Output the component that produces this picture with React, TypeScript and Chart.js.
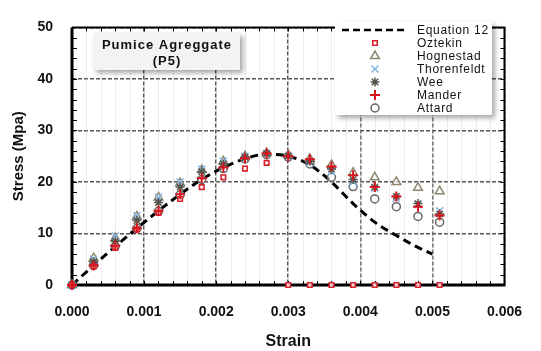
import React, { useEffect, useRef } from "react";
import { Chart, registerables } from "chart.js";
import { drawPoint } from "chart.js/helpers";

Chart.register(...registerables);

// Strain steps shared by the model series
const strain = [0, 0.0003, 0.0006, 0.0009, 0.0012, 0.0015, 0.0018, 0.0021, 0.0024, 0.0027, 0.003, 0.0033, 0.0036, 0.0039, 0.0042, 0.0045, 0.0048, 0.0051];

const oztekin = [0, 3.6, 7.2, 10.8, 14.0, 16.7, 19.0, 20.9, 22.6, 23.7, 0, 0, 0, 0, 0, 0, 0, 0];
const hognestad = [0, 5.2, 9.1, 13.3, 17.0, 19.8, 22.3, 24.0, 25.0, 25.6, 25.3, 24.5, 23.3, 21.8, 20.9, 20.0, 18.9, 18.2];
const thorenfeldt = [0, 5.0, 9.5, 13.5, 17.0, 20.0, 22.5, 24.0, 25.0, 25.5, 25.0, 23.8, 22.0, 20.0, 18.8, 16.8, 15.6, 14.4];
const wee = [0, 4.5, 8.5, 12.5, 16.0, 19.0, 22.0, 23.5, 24.8, 25.5, 25.0, 24.0, 22.5, 20.5, 19.0, 17.2, 15.8, 13.8];
const mander = [0, 3.8, 7.6, 11.0, 14.4, 17.6, 20.7, 22.8, 24.6, 25.5, 25.0, 24.4, 23.0, 21.3, 19.0, 17.2, 15.2, 13.5];
const attard = [0, 3.8, 7.5, 11.0, 14.3, 17.5, 20.5, 22.6, 24.5, 25.3, 24.8, 23.5, 20.9, 19.1, 16.7, 15.2, 13.3, 12.2];

// Equation 12 curve
const eqStrain = [0, 0.0003, 0.0006, 0.0009, 0.0012, 0.0015, 0.0018, 0.0021, 0.0024, 0.0027, 0.003, 0.0033, 0.0036, 0.0039, 0.0042, 0.0045, 0.0048, 0.005];
const eqStress = [0, 3.8, 7.5, 11.0, 14.4, 17.6, 20.5, 22.8, 24.5, 25.4, 25.0, 23.3, 20.0, 15.8, 12.2, 9.6, 7.3, 6.0];

const xTicks = ["0.000", "0.001", "0.002", "0.003", "0.004", "0.005", "0.006"];
const yTicks = [0, 10, 20, 30, 40, 50];

const titleLines = ["Pumice Agreggate", "(P5)"];

const pts = (ys: number[], xs: number[] = strain) => xs.map((x, i) => ({ x, y: ys[i] }));

const TICK_FONT = { family: "'Liberation Sans', Arial, sans-serif", size: 14, weight: "bold" as const };

const framePlugin = {
  id: "frame",
  beforeDatasetsDraw(chart: any) {
    const { ctx, chartArea: a, scales } = chart;
    const xs = scales.x;
    const ys = scales.y;
    ctx.save();
    // faint minor verticals
    ctx.strokeStyle = "rgba(200,200,200,0.35)";
    ctx.lineWidth = 1;
    for (let v = 0.0002; v < 0.006; v += 0.0002) {
      const px = Math.round(xs.getPixelForValue(v)) + 0.5;
      ctx.beginPath();
      ctx.moveTo(px, a.top);
      ctx.lineTo(px, a.bottom);
      ctx.stroke();
    }
    ctx.strokeStyle = "#000";
    // frame
    ctx.lineWidth = 2;
    ctx.beginPath();
    ctx.moveTo(a.left, a.top);
    ctx.lineTo(a.right, a.top);
    ctx.lineTo(a.right, a.bottom);
    ctx.stroke();
    ctx.lineWidth = 3;
    ctx.beginPath();
    ctx.moveTo(a.left, a.top);
    ctx.lineTo(a.left, a.bottom);
    ctx.lineTo(a.right + 1, a.bottom);
    ctx.stroke();
    // minor ticks
    ctx.lineWidth = 1;
    for (let v = 0; v <= 50.001; v += 2) {
      const py = Math.round(ys.getPixelForValue(v)) + 0.5;
      ctx.beginPath();
      ctx.moveTo(a.left, py);
      ctx.lineTo(a.left + 5, py);
      ctx.moveTo(a.right, py);
      ctx.lineTo(a.right - 4, py);
      ctx.stroke();
    }
    for (let v = 0; v <= 0.00601; v += 0.0002) {
      const px = Math.round(xs.getPixelForValue(v)) + 0.5;
      ctx.beginPath();
      ctx.moveTo(px, a.bottom);
      ctx.lineTo(px, a.bottom - 4);
      ctx.moveTo(px, a.top);
      ctx.lineTo(px, a.top + 4);
      ctx.stroke();
    }
    ctx.restore();
  },
  afterDraw(chart: any) {
    const { ctx } = chart;
    ctx.save();
    // title box
    ctx.shadowColor = "rgba(0,0,0,0.35)";
    ctx.shadowBlur = 5;
    ctx.shadowOffsetX = 3;
    ctx.shadowOffsetY = 3;
    ctx.fillStyle = "#f3f3f3";
    ctx.fillRect(93, 33, 147, 37);
    ctx.shadowColor = "transparent";
    ctx.fillStyle = "#111";
    ctx.font = "bold 13px 'Liberation Sans', Arial, sans-serif";
    (ctx as any).letterSpacing = "1px";
    ctx.textAlign = "center";
    ctx.textBaseline = "middle";
    ctx.fillText(titleLines[0], 167, 45);
    ctx.fillText(titleLines[1], 167, 61);

    // legend box
    ctx.shadowColor = "rgba(0,0,0,0.35)";
    ctx.shadowBlur = 5;
    ctx.shadowOffsetX = 3;
    ctx.shadowOffsetY = 3;
    ctx.fillStyle = "#fff";
    ctx.fillRect(335, 22, 157, 93);
    ctx.shadowColor = "transparent";
    (ctx as any).letterSpacing = "0.7px";
    ctx.font = "12px 'Liberation Sans', Arial, sans-serif";
    ctx.textAlign = "left";
    const items = chart.data.datasets;
    items.forEach((ds: any, i: number) => {
      const y = 30 + i * 13;
      if (ds.showLine) {
        ctx.strokeStyle = ds.borderColor;
        ctx.lineWidth = 2.5;
        ctx.setLineDash([7, 4]);
        ctx.beginPath();
        ctx.moveTo(342, y);
        ctx.lineTo(408, y);
        ctx.stroke();
        ctx.setLineDash([]);
      } else {
        ctx.strokeStyle = ds.borderColor;
        ctx.fillStyle = ds.backgroundColor;
        ctx.lineWidth = ds.borderWidth;
        drawPoint(ctx, { pointStyle: ds.pointStyle, radius: ds.pointRadius, rotation: 0, borderWidth: ds.borderWidth }, 375, y);
      }
      ctx.fillStyle = "#111";
      ctx.fillText(ds.label, 417, y + 1);
    });
    ctx.restore();
  },
};

export default function App() {
  const ref = useRef<HTMLCanvasElement>(null);
  useEffect(() => {
    if (!ref.current) return;
    const chart = new Chart(ref.current, {
      type: "scatter",
      data: {
        datasets: [
          {
            label: "Equation 12",
            data: pts(eqStress, eqStrain),
            showLine: true,
            borderColor: "#000",
            backgroundColor: "#000",
            borderWidth: 3,
            borderDash: [8, 5],
            pointRadius: 0,
            cubicInterpolationMode: "monotone",
            order: 6,
          } as any,
          {
            label: "Oztekin",
            data: pts(oztekin),
            pointStyle: "rect",
            pointRadius: 3.2,
            borderWidth: 1.6,
            borderColor: "#d9232e",
            backgroundColor: "rgba(255,255,255,0.85)",
            order: 1,
          },
          {
            label: "Hognestad",
            data: pts(hognestad),
            pointStyle: "triangle",
            pointRadius: 5,
            borderWidth: 1.5,
            borderColor: "#8c8670",
            backgroundColor: "rgba(255,255,255,0.6)",
            order: 5,
          },
          {
            label: "Thorenfeldt",
            data: pts(thorenfeldt),
            pointStyle: "crossRot",
            pointRadius: 5,
            borderWidth: 1.5,
            borderColor: "#84b4e6",
            backgroundColor: "#84b4e6",
            order: 3,
          },
          {
            label: "Wee",
            data: pts(wee),
            pointStyle: "star",
            pointRadius: 4.5,
            borderWidth: 1.5,
            borderColor: "#555248",
            backgroundColor: "#555248",
            order: 2,
          },
          {
            label: "Mander",
            data: pts(mander),
            pointStyle: "cross",
            pointRadius: 5,
            borderWidth: 2,
            borderColor: "#d8141c",
            backgroundColor: "#d8141c",
            order: 0,
          },
          {
            label: "Attard",
            data: pts(attard),
            pointStyle: "circle",
            pointRadius: 4,
            borderWidth: 1.5,
            borderColor: "#666",
            backgroundColor: "rgba(255,255,255,0.5)",
            order: 4,
          },
        ].map((d: any) => ({ ...d, clip: false })),
      },
      options: {
        animation: false,
        responsive: false,
        layout: { padding: { left: 0, top: 15, right: 25, bottom: 0 } },
        plugins: { legend: { display: false }, tooltip: { enabled: false } },
        scales: {
          x: {
            type: "linear",
            min: 0,
            max: 0.006,
            afterBuildTicks: (s: any) => {
              s.ticks = xTicks.map((t) => ({ value: parseFloat(t) }));
            },
            afterFit: (s: any) => {
              s.height = 66;
            },
            ticks: {
              padding: 19,
              color: "#111",
              font: TICK_FONT,
              callback: (_v: any, i: number) => xTicks[i],
            },
            grid: { color: "#555", lineWidth: 1.5, drawTicks: false },
            border: { display: false, dash: [4, 2] },
            title: {
              display: true,
              text: "Strain",
              color: "#111",
              font: { family: "'Liberation Sans', Arial, sans-serif", size: 16, weight: "bold" },
              padding: { top: 0, bottom: 0 },
            },
          },
          y: {
            type: "linear",
            min: 0,
            max: 50,
            afterBuildTicks: (s: any) => {
              s.ticks = yTicks.map((v) => ({ value: v }));
            },
            afterFit: (s: any) => {
              s.width = 72;
            },
            ticks: { padding: 19, color: "#111", font: TICK_FONT },
            grid: { color: "#555", lineWidth: 1.5, drawTicks: false },
            border: { display: false, dash: [4, 2] },
            title: {
              display: true,
              text: "Stress (Mpa)",
              color: "#111",
              font: { family: "'Liberation Sans', Arial, sans-serif", size: 15, weight: "bold" },
              padding: { top: 10, bottom: 0 },
            },
          },
        },
      },
      plugins: [framePlugin],
    });
    return () => chart.destroy();
  }, []);
  return (
    <div style={{ position: "fixed", left: 0, top: 0, width: 541, height: 351, background: "#fff" }}>
      <canvas ref={ref} width={541} height={351} />
    </div>
  );
}
